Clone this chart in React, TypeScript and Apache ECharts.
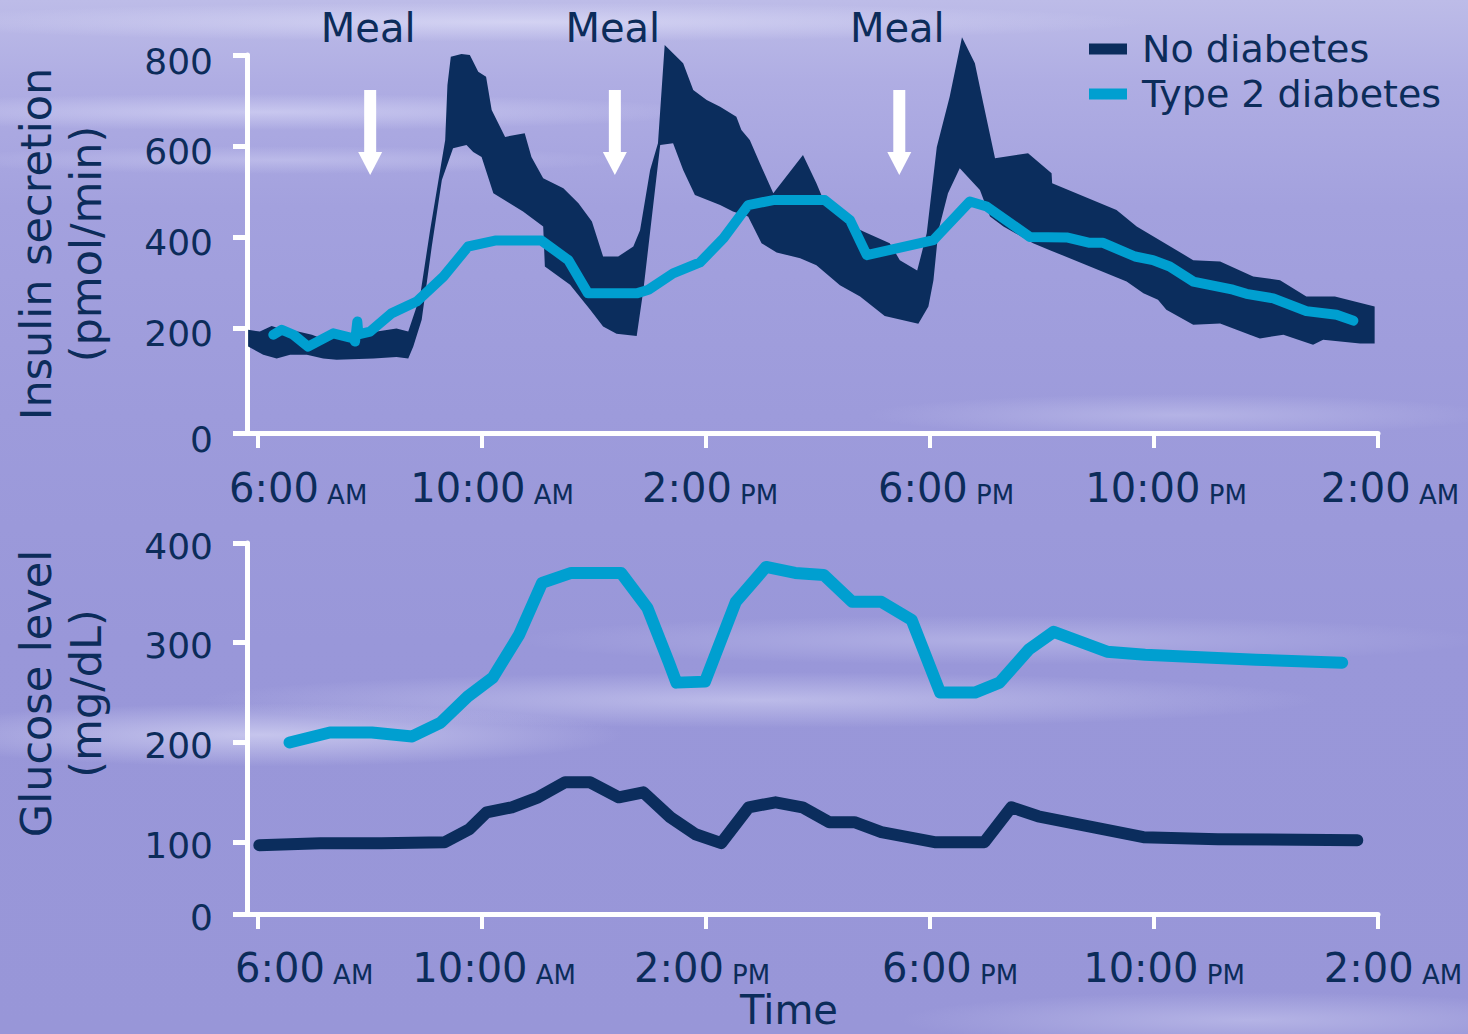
import React, { useEffect, useRef } from "react";
import * as echarts from "echarts";

const NAVY = "#0b2d5d";
const CYAN = "#009fd0";
const TEXT = "#0c2c5a";
const FONT = '"DejaVu Sans", Verdana, sans-serif';

// ---- axes ----
// hours since midnight of the first day (26 = 2:00 AM of the next day)
const tickHours = [6, 10, 14, 18, 22, 26];
const tickClock = ["6:00", "10:00", "2:00", "6:00", "10:00", "2:00"];
const tickPeriod = ["AM", "AM", "PM", "PM", "PM", "AM"];
const insulinTicks = [0, 200, 400, 600, 800];
const glucoseTicks = [0, 100, 200, 300, 400];
const mealHours = [8.0, 12.37, 17.45];

// ---- insulin secretion (pmol/min), no diabetes: band (upper / lower bound) ----
const insulinNoDiabetesUpperHours = [
  5.82, 6.03, 6.24, 6.45, 6.71, 6.96, 7.19, 7.4, 8.18, 8.47, 8.68, 8.89, 9.07, 9.25, 9.34, 9.38, 9.44,
  9.63, 9.78, 9.93, 10.07, 10.17, 10.41, 10.76, 10.88, 11.09, 11.45, 11.72, 11.96, 12.16, 12.43, 12.7,
  12.82, 13.0, 13.14, 13.26, 13.59, 13.77, 14.01, 14.25, 14.54, 14.63, 14.78, 14.96, 15.2, 15.73,
  15.97, 16.12, 16.51, 16.81, 17.28, 17.46, 17.77, 17.94, 18.12, 18.35, 18.57, 18.8, 18.95, 19.16,
  19.75, 20.17, 20.18, 21.33, 21.69, 22.7, 23.18, 23.77, 24.25, 24.72, 25.23, 25.94,
];
const insulinNoDiabetesUpperValues = [
  196, 192, 204, 196, 192, 185, 174, 181, 193, 199, 192, 269, 415, 547, 613, 734, 796,
  802, 800, 763, 752, 679, 620, 628, 576, 529, 507, 474, 434, 357, 357, 379,
  415, 547, 606, 822, 782, 723, 701, 686, 664, 635, 613, 562, 496, 580,
  518, 474, 430, 412, 386, 349, 326, 408, 598, 708, 839, 782, 694, 573,
  584, 540, 518, 459, 423, 349, 346, 313, 305, 269, 269, 247,
];
const insulinNoDiabetesLowerHours = [
  5.82, 6.09, 6.33, 6.57, 6.87, 7.16, 7.4, 8.06, 8.47, 8.68, 8.77, 8.92, 9.1, 9.28, 9.48, 9.72, 9.84,
  9.99, 10.2, 10.44, 10.73, 11.09, 11.12, 11.57, 11.93, 12.16, 12.4, 12.76, 12.88, 13.18, 13.41, 13.59,
  13.8, 14.25, 14.48, 14.75, 14.99, 15.26, 15.68, 15.97, 16.39, 16.75, 17.19, 17.79, 17.97, 18.06,
  18.15, 18.32, 18.53, 18.89, 19.07, 19.31, 19.84, 20.14, 21.51, 21.81, 22.07, 22.22, 22.7, 23.18,
  23.71, 23.89, 24.31, 24.84, 25.02, 25.68, 25.94,
];
const insulinNoDiabetesLowerValues = [
  159, 141, 133, 141, 141, 133, 130, 133, 136, 133, 159, 218, 379, 525, 595, 602, 587,
  576, 496, 478, 456, 423, 335, 295, 240, 203, 187, 182, 284, 602, 606, 547,
  492, 470, 456, 445, 386, 366, 353, 338, 294, 269, 226, 209, 247, 305,
  415, 496, 551, 503, 445, 423, 386, 371, 302, 276, 262, 240, 207, 210,
  185, 177, 185, 163, 174, 166, 166,
];

// ---- insulin secretion (pmol/min), type 2 diabetes ----
const insulinType2Hours = [
  6.27, 6.42, 6.63, 6.89, 7.34, 7.7, 7.73, 7.77, 7.79, 8.0, 8.38, 8.83, 9.31, 9.75, 10.23, 11.06,
  11.54, 11.89, 12.76, 12.97, 13.41, 13.89, 14.31, 14.75, 15.2, 16.12, 16.57, 16.87, 18.06, 18.71,
  19.01, 19.78, 20.44, 20.85, 21.09, 21.66, 21.98, 22.28, 22.7, 23.41, 23.65, 24.13, 24.72, 25.26, 25.56,
];
const insulinType2Values = [
  185, 196, 185, 159, 188, 177, 170, 214, 186, 192, 232, 258, 313, 379, 392, 392,
  349, 276, 276, 284, 320, 344, 397, 470, 481, 481, 437, 360, 393, 478,
  467, 400, 399, 387, 387, 357, 349, 335, 302, 284, 275, 265, 237, 229, 216,
];

// ---- glucose level (mg/dL) ----
const glucoseType2Hours = [
  6.56, 7.28, 8.03, 8.75, 9.26, 9.74, 10.19, 10.66, 11.07, 11.59, 12.48, 12.95, 13.33, 13.47, 13.98,
  14.53, 15.07, 15.59, 16.1, 16.61, 17.13, 17.67, 18.18, 18.8, 19.24, 19.76, 20.21, 21.16, 21.84, 23.82, 25.36,
];
const glucoseType2Values = [
  200, 210, 210, 206, 220, 246, 265, 308, 360, 370, 370, 335, 281, 260, 261,
  341, 376, 370, 368, 341, 341, 323, 250, 250, 260, 293, 311, 291, 288, 283, 280,
];
const glucoseNoDiabetesHours = [
  6.02, 7.11, 8.2, 9.33, 9.77, 10.08, 10.53, 11.0, 11.48, 11.93, 12.44, 12.88, 13.36, 13.81,
  14.27, 14.76, 15.24, 15.72, 16.2, 16.65, 17.13, 18.08, 18.97, 19.45, 19.93, 21.81, 23.14, 25.63,
];
const glucoseNoDiabetesValues = [
  97, 99, 99, 100, 113, 130, 135, 145, 160, 160, 145, 150, 125, 108,
  99, 135, 140, 135, 120, 120, 110, 100, 100, 135, 126, 105, 103, 102,
];

// ---- layout (the drawn axes are not linear near zero in the source figure) ----
const X_MIN = 5.8;
const X_MAX = 26;
const INSULIN_AXIS_MIN = -31;
const INSULIN_AXIS_MAX = 800;
const GLUCOSE_AXIS_MIN = 28;
const GLUCOSE_AXIS_MAX = 400;
const topLabelShift = [40, 10, 4, 16, 12, 12];
const bottomLabelShift = [46, 12, -4, 20, 10, 15];

const pairs = (xs: number[], ys: number[]) => xs.map((x, i) => [x, ys[i]]);

function xAxisFor(gridIndex: number, shifts: number[], margin: number, extra: any = {}) {
  const rich: any = {};
  shifts.forEach((s, i) => {
    rich["d" + i] = {
      fontSize: 40, lineHeight: 40, fontFamily: FONT, color: TEXT, verticalAlign: "bottom",
      padding: s >= 0 ? [0, 0, 0, 2 * s] : [0, 0, 0, 0],
    };
    rich["s" + i] = {
      fontSize: 26, lineHeight: 29, fontFamily: FONT, color: TEXT, verticalAlign: "bottom",
      padding: s < 0 ? [0, -2 * s, 0, 0] : [0, 0, 0, 0],
    };
  });
  return {
    type: "value",
    gridIndex,
    min: X_MIN,
    max: X_MAX,
    axisLine: { show: true, onZero: false, lineStyle: { color: "#ffffff", width: 5 } },
    axisTick: { show: true, customValues: tickHours, length: 15, lineStyle: { color: "#ffffff", width: 4 } },
    axisLabel: {
      show: true,
      customValues: tickHours,
      margin,
      rich,
      formatter: (value: number) => {
        const i = tickHours.indexOf(Math.round(value));
        if (i < 0) return "";
        return `{d${i}|${tickClock[i]}}{s${i}| ${tickPeriod[i]}}`;
      },
    },
    splitLine: { show: false },
    ...extra,
  };
}

function yAxisFor(gridIndex: number, ticks: number[], axisMin: number, axisMax: number, name: string, labelDrop: number, namePad: number[]) {
  const positions = ticks.map((t) => (t === 0 ? axisMin : t));
  return {
    type: "value",
    gridIndex,
    min: axisMin,
    max: axisMax,
    axisLine: { show: true, onZero: false, lineStyle: { color: "#ffffff", width: 5 } },
    axisTick: { show: true, customValues: positions, length: 14, lineStyle: { color: "#ffffff", width: 5 } },
    axisLabel: {
      show: true,
      customValues: positions,
      margin: 34,
      rich: {
        v: { fontSize: 36, lineHeight: 36, fontFamily: FONT, color: TEXT, padding: [2 * labelDrop, 0, 0, 0] },
      },
      formatter: (v: number) => `{v|${v === axisMin ? "0" : String(Math.round(v))}}`,
    },
    splitLine: { show: false },
    name,
    nameLocation: "middle",
    nameRotate: 90,
    nameGap: 136,
    nameTextStyle: { fontSize: 43, lineHeight: 50, fontFamily: FONT, color: TEXT, padding: namePad },
  };
}

export default function App() {
  const ref = useRef<HTMLDivElement>(null);

  useEffect(() => {
    if (!ref.current) return;
    const chart = echarts.init(ref.current, undefined, { renderer: "svg" });

    const option: any = {
      animation: false,
      backgroundColor: "transparent",
      textStyle: { fontFamily: FONT },
      grid: [
        { left: 247, top: 55, width: 1131, height: 378, outerBoundsMode: "none" },
        { left: 247, top: 543, width: 1131, height: 371, outerBoundsMode: "none" },
      ],
      legend: {
        orient: "vertical",
        left: 1089,
        top: 30,
        padding: 0,
        itemWidth: 38,
        itemHeight: 11,
        itemGap: 7,
        selectedMode: false,
        textStyle: { fontSize: 38, lineHeight: 38, fontFamily: FONT, color: TEXT, padding: [0, 0, 0, 10] },
        data: [
          { name: "No diabetes", icon: "rect", itemStyle: { color: NAVY } },
          { name: "Type 2 diabetes", icon: "rect", itemStyle: { color: CYAN } },
        ],
      },
      xAxis: [
        xAxisFor(0, topLabelShift, 35),
        xAxisFor(1, bottomLabelShift, 34, {
          name: "Time",
          nameLocation: "middle",
          nameGap: 76,
          nameTextStyle: { fontSize: 40, lineHeight: 40, fontFamily: FONT, color: TEXT, padding: [0, 47, 0, 0] },
        }),
      ],
      yAxis: [
        yAxisFor(0, insulinTicks, INSULIN_AXIS_MIN, INSULIN_AXIS_MAX, "Insulin secretion\n(pmol/min)", 6, [0, 0, 0, 0]),
        yAxisFor(1, glucoseTicks, GLUCOSE_AXIS_MIN, GLUCOSE_AXIS_MAX, "Glucose level\n(mg/dL)", 3, [0, 0, 0, 70]),
      ],
      series: [
        {
          type: "custom",
          name: "No diabetes",
          xAxisIndex: 0,
          yAxisIndex: 0,
          clip: false,
          silent: true,
          itemStyle: { color: NAVY },
          data: [[insulinNoDiabetesUpperHours[0], insulinNoDiabetesUpperValues[0]]],
          renderItem: (_params: any, api: any) => {
            const pts: number[][] = [];
            insulinNoDiabetesUpperHours.forEach((h, i) => pts.push(api.coord([h, insulinNoDiabetesUpperValues[i]])));
            for (let i = insulinNoDiabetesLowerHours.length - 1; i >= 0; i--) {
              pts.push(api.coord([insulinNoDiabetesLowerHours[i], insulinNoDiabetesLowerValues[i]]));
            }
            return { type: "polygon", shape: { points: pts }, style: { fill: NAVY } };
          },
          z: 2,
        },
        {
          type: "line",
          name: "Type 2 diabetes",
          xAxisIndex: 0,
          yAxisIndex: 0,
          data: pairs(insulinType2Hours, insulinType2Values),
          symbol: "none",
          showSymbol: false,
          itemStyle: { color: CYAN },
          lineStyle: { color: CYAN, width: 10, cap: "round", join: "round" },
          z: 3,
        },
        {
          type: "custom",
          name: "Meal",
          xAxisIndex: 0,
          yAxisIndex: 0,
          clip: false,
          silent: true,
          data: mealHours.map((h) => [h, INSULIN_AXIS_MAX]),
          renderItem: (_params: any, api: any) => {
            const c = api.coord([api.value(0), api.value(1)]);
            const x = c[0];
            const y = c[1];
            return {
              type: "group",
              children: [
                {
                  type: "text",
                  style: {
                    text: "Meal", x: x - 2, y: y - 27, align: "center", verticalAlign: "middle",
                    font: `40px ${FONT}`, fill: TEXT,
                  },
                },
                { type: "rect", shape: { x: x - 6, y: y + 35, width: 12, height: 63 }, style: { fill: "#ffffff" } },
                {
                  type: "polygon",
                  shape: { points: [[x - 12, y + 97], [x + 12, y + 97], [x, y + 120]] },
                  style: { fill: "#ffffff" },
                },
              ],
            };
          },
          z: 4,
        },
        {
          type: "line",
          name: "Type 2 diabetes",
          xAxisIndex: 1,
          yAxisIndex: 1,
          data: pairs(glucoseType2Hours, glucoseType2Values),
          symbol: "none",
          showSymbol: false,
          itemStyle: { color: CYAN },
          lineStyle: { color: CYAN, width: 12, cap: "round", join: "round" },
          z: 3,
        },
        {
          type: "line",
          name: "No diabetes",
          xAxisIndex: 1,
          yAxisIndex: 1,
          data: pairs(glucoseNoDiabetesHours, glucoseNoDiabetesValues),
          symbol: "none",
          showSymbol: false,
          itemStyle: { color: NAVY },
          lineStyle: { color: NAVY, width: 12, cap: "round", join: "round" },
          z: 3,
        },
      ],
    };

    chart.setOption(option);
    return () => chart.dispose();
  }, []);

  const background = [
    "radial-gradient(ellipse 900px 28px at 520px 22px, rgba(232,232,252,0.55), rgba(232,232,252,0) 70%)",
    "radial-gradient(ellipse 650px 26px at 260px 112px, rgba(228,228,252,0.5), rgba(228,228,252,0) 70%)",
    "radial-gradient(ellipse 500px 20px at 280px 160px, rgba(225,225,250,0.35), rgba(225,225,250,0) 70%)",
    "radial-gradient(ellipse 520px 45px at 260px 735px, rgba(228,228,250,0.6), rgba(228,228,250,0) 70%)",
    "radial-gradient(ellipse 800px 40px at 760px 700px, rgba(222,222,248,0.5), rgba(222,222,248,0) 70%)",
    "radial-gradient(ellipse 700px 35px at 1000px 640px, rgba(220,220,248,0.35), rgba(220,220,248,0) 70%)",
    "radial-gradient(ellipse 450px 30px at 1180px 415px, rgba(215,215,245,0.4), rgba(215,215,245,0) 70%)",
    "radial-gradient(ellipse 500px 40px at 1250px 1020px, rgba(215,215,245,0.45), rgba(215,215,245,0) 70%)",
    "linear-gradient(180deg, #bdbce8 0%, #afade3 8%, #a3a1de 20%, #9d9bdb 40%, #9997d9 62%, #9896d8 100%)",
  ].join(", ");

  return (
    <div
      ref={ref}
      style={{ position: "fixed", left: 0, top: 0, width: 1468, height: 1034, background }}
    />
  );
}
